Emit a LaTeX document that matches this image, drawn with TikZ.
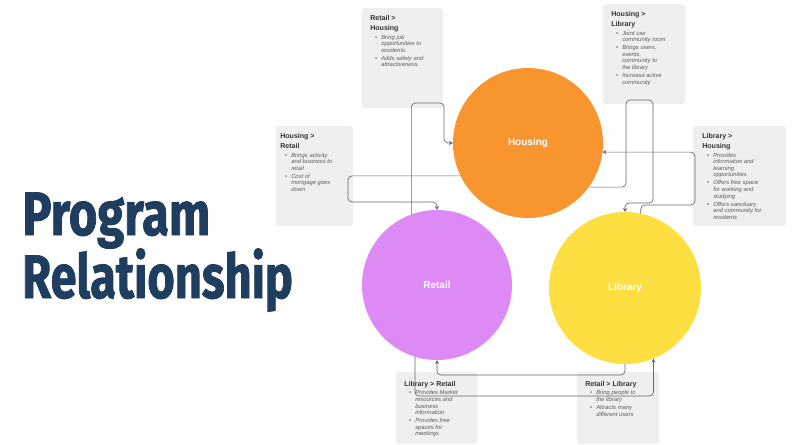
\documentclass[tikz,border=0pt]{standalone}
\usepackage{fontspec}
\usepackage{graphicx}
\setmainfont{Liberation Sans}
\newfontfamily\headfont{Fira Sans}[BoldFeatures={FakeBold=1.5}]
\usetikzlibrary{arrows.meta, positioning}
\definecolor{HeadBlue}{HTML}{1F3D5E}
\definecolor{HousingOrange}{HTML}{F8952F}
\definecolor{RetailPurple}{HTML}{DD8AF6}
\definecolor{LibraryYellow}{HTML}{FDDF42}
\definecolor{NoteGray}{HTML}{EFEFEF}
\definecolor{NoteTitle}{HTML}{333333}
\definecolor{NoteText}{HTML}{5C5C5C}
\definecolor{LinkGray}{HTML}{666666}

% note title and bullet, lines broken with \newline
\newcommand{\notehead}[1]{{\parindent=0pt\spaceskip=0pt\xspaceskip=0pt%
  \fontsize{5.3pt}{7.3pt}\selectfont\bfseries\color{NoteTitle}#1\par}\vskip 1.8pt}
\newcommand{\noteitem}[1]{{\parindent=0pt\spaceskip=0pt\xspaceskip=0pt\leftskip=8.25pt%
  \fontsize{4.4pt}{4.9pt}\selectfont\itshape\color{NoteText}%
  \noindent\llap{\textbullet\hspace{3pt}}#1\par}\vskip 1.1pt}

\begin{document}
\begin{tikzpicture}[x=0.75pt, y=-0.75pt,
    note/.style={fill=NoteGray, rounded corners=2pt, anchor=north west, inner sep=0pt, outer sep=0pt},
    notetext/.style={anchor=north west, inner sep=0pt, text width=60pt, xshift=6pt, yshift=-5.5pt},
    blob/.style={circle, inner sep=0pt, outer sep=0pt, minimum size=112.5pt, text=white,
      font=\fontsize{7.5pt}{9pt}\selectfont\bfseries},
    heading/.style={anchor=base west, inner sep=0pt, text=HeadBlue,
      font=\headfont\bfseries\fontsize{46pt}{50pt}\selectfont},
    link/.style={draw=LinkGray, line width=0.5pt, rounded corners=3pt, -{Stealth[length=3pt, width=3pt]}}
  ]
    \useasboundingbox (0,0) rectangle (800,444);

    % title
    \node[heading] (program) at (22,235) {\resizebox{141pt}{\height}{Program}};
    \node[heading] (relation) at (22,298) {\resizebox{203pt}{\height}{Relationship}};

    % notes
    \node[note, minimum width=60.75pt, minimum height=75pt] (rh) at (362,8) {};
    \node[note, minimum width=61.5pt, minimum height=75pt] (hl) at (603,4) {};
    \node[note, minimum width=57.75pt, minimum height=75pt] (hr) at (276,126) {};
    \node[note, minimum width=69.75pt, minimum height=75pt] (lh) at (693,126) {};
    \node[note, minimum width=60.75pt, minimum height=54pt] (lr) at (396,372) {};
    \node[note, minimum width=61.5pt, minimum height=54pt] (rl) at (577,372) {};

    \node[notetext] (rh-text) at (rh.north west) {\notehead{Retail >\newline Housing}
      \noteitem{Bring job\newline opportunities to\newline residents.}
      \noteitem{Adds safety and\newline attractiveness.}};
    \node[notetext] (hl-text) at (hl.north west) {\notehead{Housing >\newline Library}
      \noteitem{Joint use\newline community room}
      \noteitem{Brings users,\newline events,\newline community to\newline the library}
      \noteitem{Increase active\newline community}};
    \node[notetext, xshift=-3pt] (hr-text) at (hr.north west) {\notehead{Housing >\newline Retail}
      \noteitem{Brings activity\newline and business to\newline retail}
      \noteitem{Cost of\newline mortgage goes\newline down}};
    \node[notetext, xshift=0.75pt] (lh-text) at (lh.north west) {\notehead{Library >\newline Housing}
      \noteitem{Provides\newline information and\newline learning\newline opportunities}
      \noteitem{Offers free space\newline for working and\newline studying}
      \noteitem{Offers sanctuary\newline and community for\newline residents}};
    \node[notetext, yshift=-1pt] (lr-text) at (lr.north west) {\notehead{Library > Retail}
      \noteitem{Provides Market\newline resources and\newline business\newline information}
      \noteitem{Provides free\newline spaces for\newline meetings}};
    \node[notetext, yshift=-1pt] (rl-text) at (rl.north west) {\notehead{Retail > Library}
      \noteitem{Bring people to\newline the library}
      \noteitem{Attracts many\newline different users}};

    % programs
    \node[blob, fill=HousingOrange] (housing) at (528,143) {Housing};
    \node[blob, fill=RetailPurple] (retail) at (437,285) {Retail};
    \node[blob, fill=LibraryYellow, minimum size=114pt] (library) at (625,288) {Library};

    % relationships
    \coordinate (rh-a) at (444,103);
    \coordinate (hr-a) at (348,202);
    \coordinate (hl-a) at (626,100);
    \coordinate (hl-b) at (653,203);
    \coordinate (lh-a) at (695,205);
    \coordinate (rl-a) at (540,396);
    \coordinate (lr-a) at (530,375);

    \draw[link] (retail.110) |- (rh-a) |- (housing.180);
    \draw[link] (housing.206) -| (hr-a) -| (retail.north);
    \draw[link] (housing.324) -| (hl-a) -| (hl-b) -| (library.north);
    \draw[link] (library.78) |- (lh-a) |- (housing.353);
    \draw[link] (retail.253) |- (rl-a) -| (library.292);
    \draw[link] (library.south) |- (lr-a) -| (retail.south);
  \end{tikzpicture}
\end{document}
